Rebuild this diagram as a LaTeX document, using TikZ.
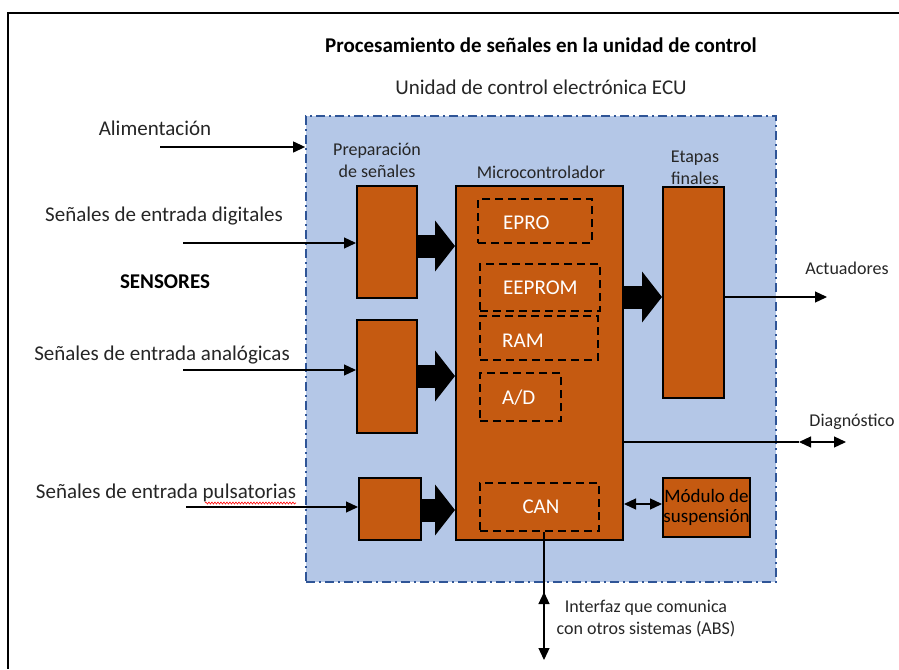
\documentclass[tikz,border=0pt]{standalone}
\usepackage{fontspec}
\setmainfont{Carlito}
\usetikzlibrary{arrows.meta,decorations.pathmorphing}
\definecolor{ecufill}{HTML}{B4C7E7}
\definecolor{eculine}{HTML}{2F5597}
\definecolor{boxorange}{HTML}{C55A11}
\definecolor{txtgray}{HTML}{262626}
\begin{document}
\begin{tikzpicture}[x=1pt,y=-1pt,
  big/.style={font=\fontsize{21}{25}\selectfont, text=txtgray, inner sep=0},
  small/.style={font=\fontsize{18}{22}\selectfont, text=txtgray, inner sep=0, align=center},
  ecubox/.style={draw=eculine, fill=ecufill, line width=1.8pt, dash pattern=on 9pt off 4pt on 2pt off 4pt, inner sep=0},
  obox/.style={draw=black, fill=boxorange, line width=2pt, inner sep=0},
  dbox/.style={draw=black, line width=2.6pt, dash pattern=on 8pt off 5pt, inner sep=0},
  wlabel/.style={font=\fontsize{21}{25}\selectfont, text=white, inner sep=0},
  thin/.style={line width=1.2pt, -{Triangle[length=12pt,width=11pt]}},
  thinboth/.style={line width=1.2pt, {Triangle[length=12pt,width=11pt]}-{Triangle[length=12pt,width=11pt]}},
  blockarr/.style={line width=23pt, -{Triangle[length=20pt,width=50pt]}}
]
\useasboundingbox (0,0) rectangle (899,669);
\fill[white] (0,0) rectangle (899,669);
% outer frame (top and left visible)
\draw[line width=2pt] (899,13) -- (8,13) -- (8,669);

% titles
\node[big, font=\fontsize{21}{25}\selectfont\bfseries, text=black] (title) at (541,45) {Procesamiento de señales en la unidad de control};
\node[big] (sub) at (541,87) {Unidad de control electrónica ECU};

% ECU box
\node[ecubox, minimum width=470pt, minimum height=466pt] (ecu) at (541,349) {};

% boxes
\node[obox, minimum width=60pt, minimum height=112pt] (p1) at (387,242) {};
\node[obox, minimum width=60pt, minimum height=113pt] (p2) at (387,376.5) {};
\node[obox, minimum width=62pt, minimum height=62pt] (p3) at (390,509) {};
\node[obox, minimum width=167pt, minimum height=354pt] (mc) at (539.5,363) {};
\node[obox, minimum width=61pt, minimum height=211pt] (ef) at (693.5,292.5) {};
\node[obox, minimum width=87pt, minimum height=59pt, font=\fontsize{19}{22}\selectfont, align=center, text=black] (ms) at (706.5,507.5) {Módulo de\\[-2pt]suspensión};

% dashed inner boxes
\node[dbox, minimum width=114pt, minimum height=44pt] (epro) at (535,221) {};
\node[dbox, minimum width=120pt, minimum height=47pt] (eeprom) at (540,287.5) {};
\node[dbox, minimum width=118pt, minimum height=44pt] (ram) at (539,338) {};
\node[dbox, minimum width=81pt, minimum height=48pt] (ad) at (520.5,397) {};
\node[dbox, minimum width=119pt, minimum height=48pt] (can) at (539.5,507) {};
\node[wlabel, anchor=west] (lepro) at (503,223) {EPRO};
\node[wlabel, anchor=west] (leeprom) at (503,288) {EEPROM};
\node[wlabel, anchor=west] (lram) at (502,341) {RAM};
\node[wlabel, anchor=west] (lad) at (502,398) {A/D};
\node[wlabel] (lcan) at (541,507) {CAN};

% labels
\node[small] (prep) at (377,160) {Preparación\\de señales};
\node[small] (micro) at (541,172) {Microcontrolador};
\node[small] (etapas) at (695,168) {Etapas\\finales};
\node[big] (alim) at (155,128) {Alimentación};
\node[big] (dig) at (164,216) {Señales de entrada digitales};
\node[big, font=\fontsize{21}{25}\selectfont\bfseries, text=black] (sens) at (165,282) {SENSORES};
\node[big] (ana) at (162,355) {Señales de entrada analógicas};
\node[big] (pul) at (166,493) {Señales de entrada pulsatorias};
\node[small] (act) at (847,268) {Actuadores};
\node[small] (diag) at (852,422) {Diagnóstico};
\node[small] (intf) at (646,619) {Interfaz que comunica\\con otros sistemas (ABS)};

% spell-check underline
\draw[red, line width=0.6pt, decorate, decoration={snake, amplitude=1pt, segment length=3pt}] (205,503) -- (296,503);

% coordinates for free ends
\coordinate (calim) at (160,147);
\coordinate (cdig) at (183,243);
\coordinate (cana) at (183,370);
\coordinate (cpul) at (186,507);
\coordinate (cact) at (827,297);
\coordinate (cdiagL) at (799,442);
\coordinate (cdiagR) at (846,442);
\coordinate (cbus) at (544,660);
\coordinate (cbusup) at (544,592);
\coordinate (cbusupb) at (544,610);

% thin connectors
\draw[thin] (calim) -- (calim -| ecu.west);
\draw[thin] (cdig) -- (cdig -| p1.west);
\draw[thin] (cana) -- (cana -| p2.west);
\draw[thin] (cpul) -- (cpul -| p3.west);
\draw[thin] (ef.east |- cact) -- (cact);
\draw[line width=1.2pt] (mc.east |- cdiagL) -- (cdiagL);
\draw[thinboth] (cdiagL) -- (cdiagR);
\draw[thinboth] (mc.east |- 0,504) -- (ms.west |- 0,504);
\draw[thin] (can.south -| cbus) -- (cbus);
\draw[thin] (cbusupb) -- (cbusup);

% block arrows
\draw[blockarr] (p1.east |- 0,246) -- (mc.west |- 0,246);
\draw[blockarr] (p2.east |- 0,376) -- (mc.west |- 0,376);
\draw[blockarr] (p3.east |- 0,510) -- (mc.west |- 0,510);
\draw[blockarr] (mc.east |- 0,297) -- (ef.west |- 0,297);
\end{tikzpicture}
\end{document}
